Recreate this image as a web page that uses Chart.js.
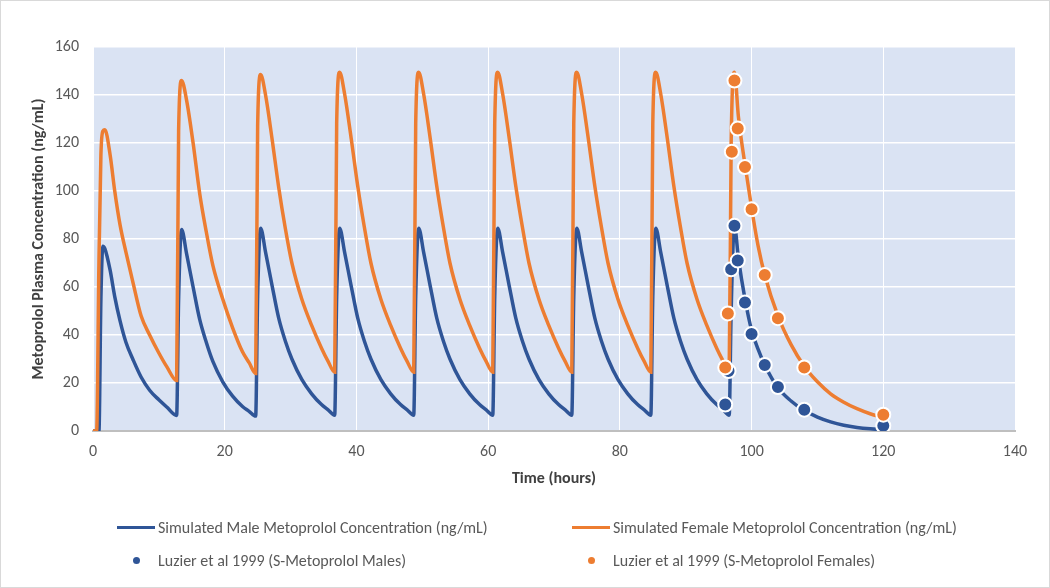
<!DOCTYPE html>
<html>
<head>
<meta charset="utf-8">
<script src="https://cdn.jsdelivr.net/npm/chart.js@4/dist/chart.umd.min.js"></script>
<style>
  body { margin: 0; background: #fff; }
  #wrap { position: relative; width: 1050px; height: 588px; font-family: Carlito, 'Liberation Sans', Arial, sans-serif; }
  #frame { position: absolute; left: 0; top: 0; width: 1050px; height: 588px; box-sizing: border-box; border: 1px solid #d9d9d9; pointer-events: none; }
  .leg { position: absolute; display: flex; align-items: center; font-size: 16px; color: #595959; white-space: nowrap; }
  .leg .mk { width: 38px; display: flex; justify-content: center; align-items: center; margin-right: 3px; }
  .leg .ln { width: 38px; height: 3px; }
  .leg .dt { width: 7px; height: 7px; border-radius: 50%; }
</style>
</head>
<body>
<div id="wrap">
  <canvas id="chart" width="1050" height="588"></canvas>
  <div class="leg" style="left:117px; top:518px"><span class="mk"><span class="ln" style="background:#2f5597"></span></span>Simulated Male Metoprolol Concentration (ng/mL)</div>
  <div class="leg" style="left:572px; top:518px"><span class="mk"><span class="ln" style="background:#ed7d31"></span></span>Simulated Female Metoprolol Concentration (ng/mL)</div>
  <div class="leg" style="left:117px; top:551px"><span class="mk"><span class="dt" style="background:#2f5597"></span></span>Luzier et al 1999 (S-Metoprolol Males)</div>
  <div class="leg" style="left:572px; top:551px"><span class="mk"><span class="dt" style="background:#ed7d31"></span></span>Luzier et al 1999 (S-Metoprolol Females)</div>
  <div id="frame"></div>
</div>
<script>
// simulated profiles (hours, ng/mL), one dosing interval per line
const simTime = [
  0, 0.55, 0.9, 1.2, 1.5, 1.8, 2.6, 3.3, 4.1, 5.0, 6.1, 7.3, 8.6, 10.0, 11.2,
  12.7, 13.0, 13.45, 14.2, 15.2, 16.2, 17.2, 18.2, 19.7, 21.2, 22.7, 23.7,
  24.7, 25.0, 25.45, 26.2, 27.2, 28.2, 29.2, 30.2, 31.7, 33.2, 34.7, 35.7,
  36.7, 37.0, 37.45, 38.2, 39.2, 40.2, 41.2, 42.2, 43.7, 45.2, 46.7, 47.7,
  48.7, 49.0, 49.45, 50.2, 51.2, 52.2, 53.2, 54.2, 55.7, 57.2, 58.7, 59.7,
  60.7, 61.0, 61.45, 62.2, 63.2, 64.2, 65.2, 66.2, 67.7, 69.2, 70.7, 71.7,
  72.7, 73.0, 73.45, 74.2, 75.2, 76.2, 77.2, 78.2, 79.7, 81.2, 82.7, 83.7,
  84.7, 85.0, 85.45, 86.2, 87.2, 88.2, 89.2, 90.2, 91.7, 93.2, 94.7, 95.7,
  96.6, 96.9, 97.4, 98, 99, 100, 101, 102, 104, 106, 108, 110, 112, 114, 116, 118, 120
]
const simMale = [
  0, 0, 0, 55, 77, 76, 67, 56, 46, 37, 29.6, 22.5, 17, 13, 10,
  6.5, 55, 84, 74, 60, 46.5, 37, 29, 20.5, 14.5, 10.2, 8.2,
  6.2, 56, 84.5, 74.5, 60.5, 47, 37.5, 30, 21.5, 15.5, 11, 8.8,
  6.6, 56, 84.5, 74.5, 60.5, 47, 37.5, 30, 21.5, 15.5, 11, 8.8,
  6.6, 56, 84.5, 74.5, 60.5, 47, 37.5, 30, 21.5, 15.5, 11, 8.8,
  6.6, 56, 84.5, 74.5, 60.5, 47, 37.5, 30, 21.5, 15.5, 11, 8.8,
  6.6, 56, 84.5, 74.5, 60.5, 47, 37.5, 30, 21.5, 15.5, 11, 8.8,
  6.6, 56, 84.5, 74.5, 60.5, 47, 37.5, 30, 21.5, 15.5, 11, 8.8,
  6.6, 50, 85.5, 72, 55, 42, 34, 27.5, 18, 12.5, 8.5, 5.8, 3.8, 2.4, 1.5, 0.9, 0.5
]
const simFemale = [
  0, 0, 70, 115, 125, 125.5, 115, 100, 86, 74.5, 61.5, 48, 40, 32.5, 26.8,
  21, 125, 146, 138, 120, 99, 83, 69, 55, 43, 33, 28.5,
  24, 127, 148.5, 140, 121.5, 101.5, 84.5, 70, 55, 44, 34.5, 29,
  24.5, 128, 149.5, 140.5, 122, 102, 85, 70, 55, 44, 34.5, 29,
  24.5, 128, 149.5, 140.5, 122, 102, 85, 70, 55, 44, 34.5, 29,
  24.5, 128, 149.5, 140.5, 122, 102, 85, 70, 55, 44, 34.5, 29,
  24.5, 128, 149.5, 140.5, 122, 102, 85, 70, 55, 44, 34.5, 29,
  24.5, 128, 149.5, 140.5, 122, 102, 85, 70, 55, 44, 34.5, 29,
  24.5, 120, 149.5, 131, 111, 93, 77, 65, 48, 36, 27, 20.5, 15.5, 12, 9.3, 7.2, 5.6
]

// Luzier et al 1999 observations
const obsTimeMale = [96, 96.5, 96.9, 97.4, 97.9, 99, 100, 102, 104, 108, 120]
const obsMale = [11, 25, 67.4, 85.5, 71, 53.5, 40.4, 27.5, 18.3, 8.9, 2.2]
const obsTimeFemale = [96, 96.4, 97, 97.4, 97.9, 99, 100, 102, 104, 108, 120]
const obsFemale = [26.5, 49, 116.4, 146, 126, 110, 92.4, 65, 47, 26.5, 6.8]

const BLUE = '#2f5597'
const ORANGE = '#ed7d31'
const FONT = "Carlito, 'Liberation Sans', Arial, sans-serif"

const pts = (xs, ys) => xs.map((x, i) => ({ x, y: ys[i] }))

const plotBg = {
  id: 'plotBg',
  beforeDraw(chart) {
    const { ctx, chartArea: a } = chart
    ctx.save()
    ctx.fillStyle = '#fff'
    ctx.fillRect(0, 0, chart.width, chart.height)
    ctx.fillStyle = '#dae3f3'
    ctx.fillRect(a.left, a.top, a.right - a.left, a.bottom - a.top)
    ctx.restore()
  }
}

new Chart(document.getElementById('chart'), {
  type: 'scatter',
  data: {
    datasets: [
      {
        label: 'Luzier et al 1999 (S-Metoprolol Females)',
        data: pts(obsTimeFemale, obsFemale),
        backgroundColor: ORANGE,
        borderColor: '#fff',
        borderWidth: 2,
        pointRadius: 7,
        order: 0
      },
      {
        label: 'Luzier et al 1999 (S-Metoprolol Males)',
        data: pts(obsTimeMale, obsMale),
        backgroundColor: BLUE,
        borderColor: '#fff',
        borderWidth: 2,
        pointRadius: 7,
        order: 1
      },
      {
        label: 'Simulated Female Metoprolol Concentration (ng/mL)',
        data: pts(simTime, simFemale),
        showLine: true,
        borderColor: ORANGE,
        borderWidth: 3.5,
        pointRadius: 0,
        cubicInterpolationMode: 'monotone',
        order: 2
      },
      {
        label: 'Simulated Male Metoprolol Concentration (ng/mL)',
        data: pts(simTime, simMale),
        showLine: true,
        borderColor: BLUE,
        borderWidth: 3.5,
        pointRadius: 0,
        cubicInterpolationMode: 'monotone',
        order: 3
      }
    ]
  },
  options: {
    responsive: false,
    animation: false,
    events: [],
    layout: { padding: { left: 20, right: 35, top: 47, bottom: 98 } },
    scales: {
      x: {
        type: 'linear',
        min: 0,
        max: 140,
        afterFit: s => { s.height = 59 },
        ticks: { stepSize: 20, color: '#595959', padding: 11, font: { family: FONT, size: 16 } },
        grid: { color: '#fff', lineWidth: 1, drawTicks: false },
        border: { color: '#bfbfbf', width: 2 },
        title: {
          display: true,
          text: 'Time (hours)',
          color: '#404040',
          padding: { top: 0, bottom: 1 },
          font: { family: FONT, size: 16, weight: 'bold' }
        }
      },
      y: {
        min: 0,
        max: 160,
        afterFit: s => { s.width = 73 },
        ticks: { stepSize: 20, color: '#595959', padding: 14, font: { family: FONT, size: 16 } },
        grid: { color: '#fff', lineWidth: 1.5, drawTicks: false },
        border: { display: false },
        title: {
          display: true,
          text: 'Metoprolol Plasma Concentration (ng/mL)',
          color: '#404040',
          padding: { top: 9, bottom: 0 },
          font: { family: FONT, size: 16, weight: 'bold' }
        }
      }
    },
    plugins: {
      legend: { display: false },
      tooltip: { enabled: false }
    }
  },
  plugins: [plotBg]
})
</script>
</body>
</html>
